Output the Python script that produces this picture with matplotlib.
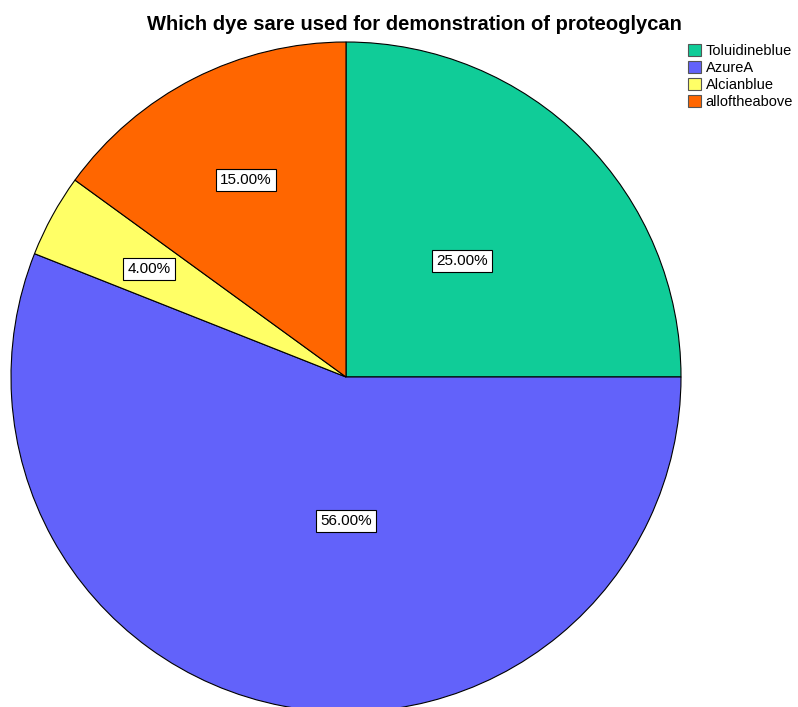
import matplotlib.pyplot as plt
from matplotlib.patches import Patch
import numpy as np

categories = ['Toluidineblue', 'AzureA', 'Alcianblue', 'alloftheabove']
shares = [25.0, 56.0, 4.0, 15.0]
colors = ['#10cc98', '#6262fa', '#ffff66', '#ff6600']
label_dist = [0.49, 0.43, 0.67, 0.66]

plt.rcParams['font.family'] = ['Liberation Sans', 'DejaVu Sans']

fig = plt.figure(figsize=(7.98, 7.07), dpi=100)
ax = fig.add_axes([0, 0, 1, 1])

cx, cy, r = 346, 330, 335
wedges, _ = ax.pie(shares, colors=colors, startangle=90, counterclock=False,
                   radius=r, center=(cx, cy), frame=True,
                   wedgeprops=dict(edgecolor='black', linewidth=0.8))
ax.set_xlim(0, 798)
ax.set_ylim(0, 707)
ax.set_aspect('equal')
ax.axis('off')

# percentage boxes inside each slice
start = 90.0
for val, d in zip(shares, label_dist):
    mid = start - val * 360 / 100 / 2
    if val == 56.0:
        mid = -90.0
    x = cx + r * d * np.cos(np.radians(mid))
    y = cy + r * d * np.sin(np.radians(mid))
    ax.text(x, y, f'{val:.2f}%', ha='center', va='center', fontsize=11,
            bbox=dict(boxstyle='square,pad=0.28', facecolor='white',
                      edgecolor='black', linewidth=0.8))
    start -= val * 360 / 100

fig.text(414 / 798, 1 - 24 / 707, 'Which dye sare used for demonstration of proteoglycan',
         ha='center', va='center', fontsize=14.5, fontweight='bold')

handles = [Patch(facecolor=c, edgecolor='#555555', linewidth=0.8) for c in colors]
fig.legend(handles, categories, loc='upper left', bbox_to_anchor=(678 / 798, 1 - 34 / 707),
           frameon=False, fontsize=10.5, handlelength=0.9, handleheight=0.9,
           handletextpad=0.3, labelspacing=0.2, borderpad=0.2)

fig.savefig('out.png', dpi=100)
